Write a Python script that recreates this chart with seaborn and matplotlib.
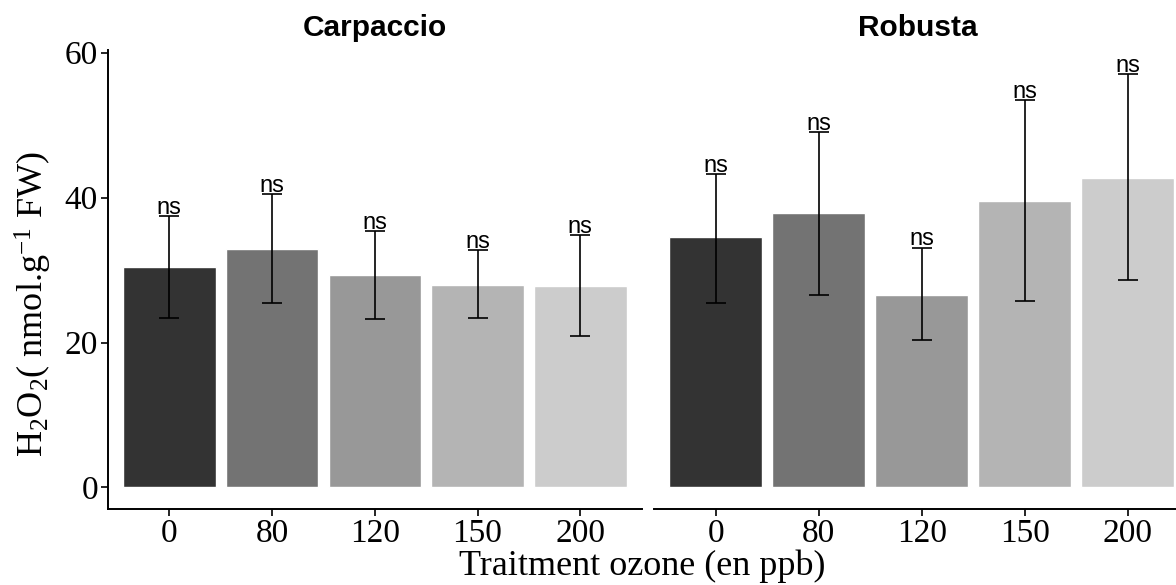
import pandas as pd
import numpy as np
import matplotlib
matplotlib.use("Agg")
import matplotlib.pyplot as plt
import seaborn as sns

# values
doses = ["0", "80", "120", "150", "200"]
carp_mean = [30.4, 32.9, 29.3, 28.0, 27.8]
carp_low = [23.4, 25.5, 23.3, 23.4, 20.9]
carp_high = [37.4, 40.5, 35.4, 32.7, 34.8]
rob_mean = [34.5, 37.8, 26.6, 39.5, 42.7]
rob_low = [25.5, 26.5, 20.3, 25.7, 28.6]
rob_high = [43.3, 49.0, 33.1, 53.4, 57.0]
varieties = ["Carpaccio", "Robusta"]
grey = ["#333333", "#737373", "#989898", "#B4B4B4", "#CCCCCC"]

sns.set_style("ticks")
plt.rcParams['font.family'] = ['Liberation Serif', 'DejaVu Serif']
plt.rcParams['text.color'] = 'black'
plt.rcParams['mathtext.fontset'] = 'custom'
plt.rcParams['mathtext.rm'] = 'Liberation Serif'
plt.rcParams['mathtext.it'] = 'Liberation Serif:italic'

df = pd.DataFrame({
    'variety': np.repeat(varieties, len(doses)),
    'dose': doses * 2,
    'mean': carp_mean + rob_mean,
    'low': carp_low + rob_low,
    'high': carp_high + rob_high,
})

fig = plt.figure(figsize=(11.76, 5.85), dpi=100)
ax1 = fig.add_axes([0.0915, 0.1295, 0.4544, 0.785])
ax2 = fig.add_axes([0.5561, 0.1295, 0.4439, 0.785])
axes = [ax1, ax2]
xmax = [4.6, 4.47]

for i, (ax, var) in enumerate(zip(axes, varieties)):
    d = df[df['variety'] == var]
    sns.barplot(data=d, x='dose', y='mean', hue='dose', palette=grey,
                order=doses, hue_order=doses, width=0.9, errorbar=None,
                legend=False, ax=ax, saturation=1)
    xs = np.arange(len(doses))
    m = d['mean'].values
    ax.errorbar(xs, m, yerr=[m - d['low'].values, d['high'].values - m],
                fmt='none', ecolor='black', elinewidth=1.2, capsize=7.2,
                capthick=1.2, clip_on=False)
    for x, top in zip(xs, d['high'].values):
        ax.annotate('ns', (x, top), xytext=(0, 1.5), textcoords='offset points',
                    ha='center', va='baseline', fontsize=17, color='black',
                    family='Liberation Sans', annotation_clip=False)
    ax.set_xlim(-0.6, xmax[i])
    ax.set_ylim(-3, 60.35)
    ax.set_xlabel('')
    ax.set_ylabel('')
    ax.tick_params(axis='both', labelsize=24, length=5, width=1.2,
                   color='black', labelcolor='black', pad=2)
    for s in ['top', 'right']:
        ax.spines[s].set_visible(False)
    ax.spines['bottom'].set_linewidth(1.4)
    ax.spines['left'].set_linewidth(1.4)
    ax.spines['bottom'].set_color('black')
    ax.spines['left'].set_color('black')
    ax.set_facecolor('white')

ax1.set_yticks([0, 20, 40, 60])
ax2.set_yticks([])
ax2.spines['left'].set_visible(False)

fig.text(375 / 1176, 1 - 28 / 585, 'Carpaccio', ha='center', va='center',
         fontsize=21.5, fontweight='bold', family='Liberation Sans',
         color='black')
fig.text(918 / 1176, 1 - 28 / 585, 'Robusta', ha='center', va='center',
         fontsize=21.5, fontweight='bold', family='Liberation Sans',
         color='black')
fig.text(642 / 1176, 1 - 566 / 585, 'Traitment ozone (en ppb)', ha='center',
         va='center', fontsize=26, color='black')
fig.text(33 / 1176, 0.48, r'H$_2$O$_2$( nmol.g$^{-1}$ FW)', rotation=90,
         ha='center', va='center', fontsize=26, color='black')

fig.savefig('out.png', dpi=100, facecolor='white')
